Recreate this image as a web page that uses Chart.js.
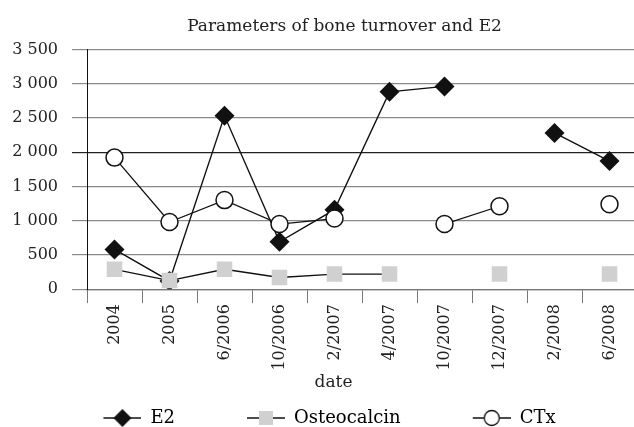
<!DOCTYPE html>
<html>
<head>
<meta charset="utf-8">
<title>Parameters of bone turnover and E2</title>
<script src="https://cdn.jsdelivr.net/npm/chart.js@4.4.1/dist/chart.umd.min.js"></script>
<style>
  html, body { margin: 0; padding: 0; background: #fff; overflow: hidden; }
  #wrap { width: 660px; height: 427px; }
</style>
</head>
<body>
<div id="wrap"><canvas id="bone-chart" width="660" height="427"></canvas></div>
<script>
const dates = ['2004', '2005', '6/2006', '10/2006', '2/2007', '4/2007', '10/2007', '12/2007', '2/2008', '6/2008'];
const e2 = [580, 120, 2530, 690, 1160, 2880, 2960, null, 2280, 1870];
const osteocalcin = [290, 125, 290, 170, 220, 220, null, 220, null, 220];
const ctx_values = [1920, 980, 1300, 950, 1030, null, 950, 1210, null, 1240];
const yTicks = [0, 500, 1000, 1500, 2000, 2500, 3000, 3500];

const FONT = "'DejaVu Serif', serif";
const ICON_GAP = 72;

// legend icons: short line with the marker on it, empty space on the left
function legendIcon(kind) {
  const c = document.createElement('canvas');
  c.width = 38 + ICON_GAP;
  c.height = 22;
  const g = c.getContext('2d');
  g.translate(ICON_GAP, 0);
  g.strokeStyle = '#111';
  g.lineWidth = 1.3;
  g.beginPath();
  g.moveTo(0, 11);
  g.lineTo(38, 11);
  g.stroke();
  if (kind === 'diamond') {
    g.fillStyle = '#111';
    g.beginPath();
    g.moveTo(19, 2); g.lineTo(28, 11); g.lineTo(19, 20); g.lineTo(10, 11);
    g.closePath();
    g.fill();
  } else if (kind === 'square') {
    g.fillStyle = '#d0d0d0';
    g.fillRect(12, 4, 14, 14);
  } else {
    g.fillStyle = '#fff';
    g.beginPath();
    g.arc(19, 11, 7.5, 0, Math.PI * 2);
    g.fill();
    g.stroke();
  }
  return c;
}

const icons = [legendIcon('diamond'), legendIcon('square'), legendIcon('circle')];

function spaced(v) {
  return String(v).replace(/\B(?=(\d{3})+(?!\d))/g, ' ');
}

// move title, axis caption and legend like in the original
const nudge = {
  id: 'nudge',
  afterLayout(chart) {
    const shift = (box, dx, dy = 0) => {
      if (!box) return;
      box.left += dx; box.right += dx;
      box.top += dy; box.bottom += dy;
    };
    shift(chart.titleBlock, 26);
    shift(chart.boxes.find(b => b.options && b.options.text === 'date'), 15);
    shift(chart.legend, -25, 10);
  }
};

const chart = new Chart(document.getElementById('bone-chart'), {
  type: 'line',
  data: {
    labels: dates,
    datasets: [
      {
        label: 'E2',
        data: e2,
        order: 3,
        borderColor: '#111',
        borderWidth: 1.4,
        pointStyle: 'rectRot',
        pointRadius: 10,
        pointBackgroundColor: '#111',
        pointBorderColor: '#111',
        pointBorderWidth: 0,
        spanGaps: false,
        tension: 0
      },
      {
        label: 'Osteocalcin',
        data: osteocalcin,
        order: 2,
        borderColor: '#111',
        borderWidth: 1.3,
        pointStyle: 'rect',
        pointRadius: 11,
        pointBackgroundColor: '#d0d0d0',
        pointBorderColor: '#d0d0d0',
        pointBorderWidth: 0,
        spanGaps: false,
        tension: 0
      },
      {
        label: 'CTx',
        data: ctx_values,
        order: 1,
        borderColor: '#111',
        borderWidth: 1.3,
        pointStyle: 'circle',
        pointRadius: 8.5,
        pointBackgroundColor: '#fff',
        pointBorderColor: '#111',
        pointBorderWidth: 1.5,
        spanGaps: false,
        tension: 0
      }
    ]
  },
  options: {
    responsive: false,
    animation: false,
    events: [],
    layout: { padding: { left: 0, right: 23, top: 0, bottom: 0 } },
    plugins: {
      title: {
        display: true,
        text: 'Parameters of bone turnover and E2',
        color: '#222',
        font: { family: FONT, size: 17, weight: 'normal' },
        padding: { top: 16, bottom: 13 }
      },
      subtitle: {
        display: true,
        position: 'bottom',
        weight: 500,
        text: 'date',
        color: '#222',
        font: { family: FONT, size: 17, weight: 'normal' },
        padding: { top: 1, bottom: 6 }
      },
      legend: {
        position: 'bottom',
        labels: {
          usePointStyle: true,
          pointStyleWidth: 38 + ICON_GAP,
          padding: 0,
          color: '#222',
          font: { family: FONT, size: 18, lineHeight: 1 },
          generateLabels: (ch) => ch.data.datasets.map((ds, i) => ({
            text: ds.label,
            pointStyle: icons[i],
            fillStyle: '#fff',
            strokeStyle: '#fff',
            lineWidth: 0,
            datasetIndex: i
          }))
        }
      },
      tooltip: { enabled: false }
    },
    scales: {
      x: {
        offset: true,
        grid: {
          offset: true,
          drawOnChartArea: false,
          drawTicks: true,
          tickLength: 14,
          color: '#777'
        },
        border: { color: '#777', width: 1.2 },
        ticks: {
          autoSkip: false,
          maxRotation: 90,
          minRotation: 90,
          padding: 1,
          color: '#222',
          font: { family: FONT, size: 16 }
        }
      },
      y: {
        min: yTicks[0],
        max: yTicks[yTicks.length - 1],
        afterFit: (scale) => { scale.width = 87; },
        afterBuildTicks: (scale) => { scale.ticks = yTicks.map(v => ({ value: v })); },
        grid: {
          drawTicks: true,
          tickLength: 15,
          lineWidth: 1.2,
          color: (c) => (c.tick && c.tick.value === 2000 ? '#222' : '#8a8a8a')
        },
        border: { color: '#111', width: 1 },
        ticks: {
          padding: 14,
          color: '#222',
          font: { family: FONT, size: 16 },
          callback: (v) => spaced(v)
        }
      }
    }
  },
  plugins: [nudge]
});
</script>
</body>
</html>
